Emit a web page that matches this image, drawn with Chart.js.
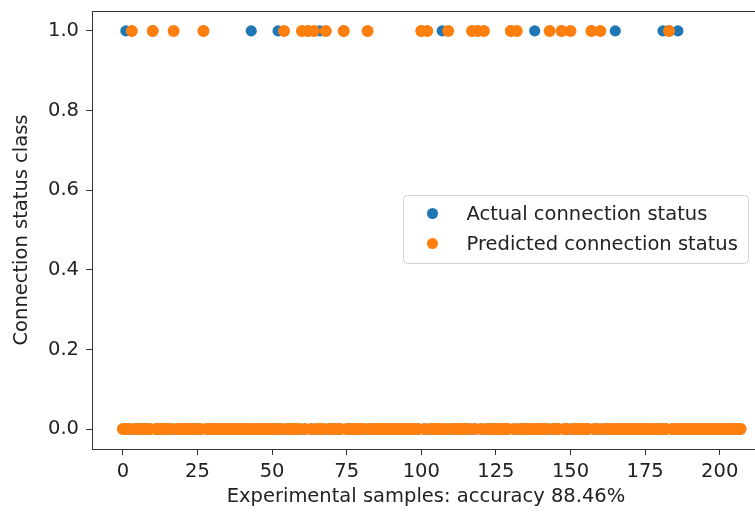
<!DOCTYPE html>
<html>
<head>
<meta charset="utf-8">
<script src="https://cdn.jsdelivr.net/npm/chart.js@4.4.1/dist/chart.umd.min.js"></script>
<style>
  html, body { margin: 0; padding: 0; background: #fff; overflow: hidden; }
  #wrap { width: 755px; height: 514px; overflow: hidden; }
</style>
</head>
<body>
<div id="wrap"><canvas id="chart" width="770" height="514"></canvas></div>
<script>
// ─── data ───
const sampleCount = 208;
// sample indices whose class is 1 (all other samples are 0)
const actualOnes    = [1, 10, 27, 43, 52, 62, 66, 74, 100, 107, 119, 130, 138, 147, 157, 165, 181, 183, 186];
const predictedOnes = [3, 10, 17, 27, 54, 60, 62, 64, 68, 74, 82, 100, 102, 109, 117, 119, 121, 130, 132,
                       143, 147, 150, 157, 160, 183];
const xTicks = [0, 25, 50, 75, 100, 125, 150, 175, 200];
const yTicks = [0, 0.2, 0.4, 0.6, 0.8, 1.0];
const seriesLabels = ['Actual connection status', 'Predicted connection status'];
const seriesColors = ['#1f77b4', '#ff7f0e'];
const xTitle = 'Experimental samples: accuracy 88.46%';
const yTitle = 'Connection status class';

function toPoints(ones) {
  const pts = [];
  for (let i = 0; i < sampleCount; i++) pts.push({ x: i, y: ones.includes(i) ? 1 : 0 });
  return pts;
}

Chart.defaults.font.family = '"DejaVu Sans", sans-serif';
Chart.defaults.font.size = 19.5;
Chart.defaults.color = '#222';

// frame round the plot area
const frame = {
  id: 'frame',
  afterDatasetsDraw(chart) {
    const { ctx, chartArea: a } = chart;
    ctx.save();
    ctx.strokeStyle = '#333';
    ctx.lineWidth = 1;
    ctx.strokeRect(Math.round(a.left) + 0.5, Math.round(a.top) + 0.5,
                   Math.round(a.right - a.left), Math.round(a.bottom - a.top));
    ctx.restore();
  }
};

// matplotlib-like boxed legend inside the axes
const boxLegend = {
  id: 'boxLegend',
  afterDraw(chart) {
    const ctx = chart.ctx;
    const x = 403.5, y = 195.5, w = 345, h = 68;
    ctx.save();
    ctx.fillStyle = 'rgba(255,255,255,0.8)';
    ctx.strokeStyle = '#d0d0d0';
    ctx.lineWidth = 1;
    ctx.beginPath();
    ctx.roundRect(x, y, w, h, 4);
    ctx.fill();
    ctx.stroke();
    ctx.font = '19.5px "DejaVu Sans", sans-serif';
    ctx.textBaseline = 'middle';
    chart.data.datasets.forEach((ds, i) => {
      const cy = y + 18 + i * 30;
      ctx.fillStyle = ds.backgroundColor;
      ctx.beginPath();
      ctx.arc(x + 29, cy, 5.5, 0, Math.PI * 2);
      ctx.fill();
      ctx.fillStyle = '#222';
      ctx.fillText(ds.label, x + 63, cy + 1);
    });
    ctx.restore();
  }
};

new Chart(document.getElementById('chart'), {
  type: 'scatter',
  data: {
    datasets: [
      { label: seriesLabels[0], data: toPoints(actualOnes), backgroundColor: seriesColors[0],
        borderWidth: 0, pointRadius: 5.6, order: 2 },
      { label: seriesLabels[1], data: toPoints(predictedOnes), backgroundColor: seriesColors[1],
        borderWidth: 0, pointRadius: 6, order: 1 },
    ]
  },
  options: {
    responsive: false,
    animation: false,
    layout: { padding: { top: 11, right: 10, left: 0, bottom: 0 } },
    plugins: { legend: { display: false }, tooltip: { enabled: false } },
    scales: {
      x: {
        type: 'linear', min: -10.35, max: 213.5,
        afterBuildTicks: s => { s.ticks = xTicks.map(v => ({ value: v })); },
        afterFit: s => { s.height = 65; s.paddingLeft = 0; s.paddingRight = 0; },
        grid: { drawOnChartArea: false, drawTicks: true, tickLength: 6, color: '#333' },
        border: { display: false },
        ticks: { padding: 5, maxRotation: 0, autoSkip: false },
        title: { display: true, text: xTitle, padding: { top: 0, bottom: 5 } }
      },
      y: {
        type: 'linear', min: -0.05, max: 1.05,
        afterBuildTicks: s => { s.ticks = yTicks.map(v => ({ value: v })); },
        afterFit: s => { s.width = 92; s.paddingTop = 0; s.paddingBottom = 0; },
        grid: { drawOnChartArea: false, drawTicks: true, tickLength: 6, color: '#333' },
        border: { display: false },
        ticks: { padding: 7, callback: v => Number(v).toFixed(1), autoSkip: false },
        title: { display: true, text: yTitle, padding: { top: 10, bottom: 0 } }
      }
    }
  },
  plugins: [frame, boxLegend]
});
</script>
</body>
</html>
